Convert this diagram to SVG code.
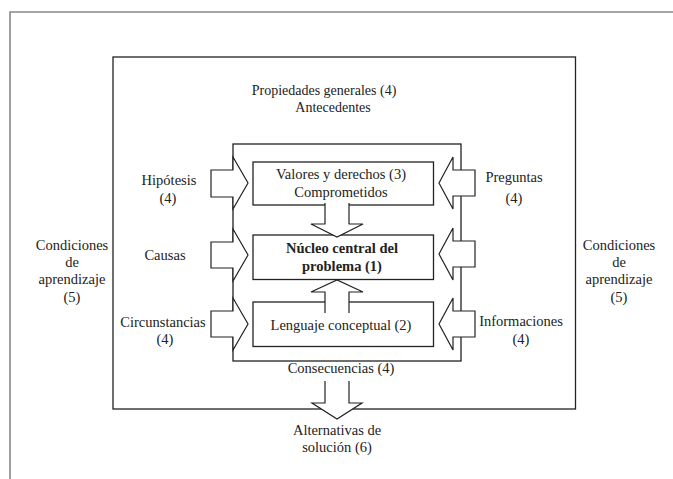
<svg xmlns="http://www.w3.org/2000/svg" width="673" height="479" viewBox="0 0 673 479">
<style>
text{font-family:"Liberation Serif","Times New Roman",serif;font-size:14.5px;fill:#222;text-anchor:middle}
.b{font-weight:bold}
.s{font-size:14px}
.box{fill:#fff;stroke:#222;stroke-width:1.3}
.frame{fill:none;stroke:#222;stroke-width:1.3}
.arr{fill:#fff;stroke:#222;stroke-width:1.2;stroke-linejoin:miter}
</style>
<rect width="673" height="479" fill="#fff"/>
<path d="M10,479 V12 H673" fill="none" stroke="#888" stroke-width="1.6"/>
<g id="main">
<rect class="frame" x="113" y="57" width="462.5" height="352"/>
<text class="s" x="324" y="95">Propiedades generales (4)</text>
<text class="s" x="333" y="112">Antecedentes</text>
<text x="341" y="373">Consecuencias (4)</text>
</g>
<g id="inner">
<rect class="frame" x="233" y="144" width="228" height="217"/>
</g>
<g id="valores">
<rect class="box" x="253" y="162" width="180.5" height="43"/>
<text x="341" y="179">Valores y derechos (3)</text>
<text x="341" y="197">Comprometidos</text>
</g>
<g id="nucleo">
<rect class="box" x="253" y="235" width="180.5" height="44.5"/>
<text class="b" x="342" y="253">Núcleo central del</text>
<text class="b" x="342" y="271">problema (1)</text>
</g>
<g id="lenguaje">
<rect class="box" x="253" y="302" width="180.5" height="44.5"/>
<text x="341" y="330">Lenguaje conceptual (2)</text>
</g>
<g id="connectors">
<path class="arr" d="M325,203 V224 H311 L337,237 L363,224 H349 V203"/>
<path class="arr" d="M325,313 V292 H311 L337,280 L363,292 H349 V313"/>
<path class="arr" d="M233,157 L248,183 L233,209 V197 H211 V170 H233 Z"/>
<path class="arr" d="M233,229 L248,255 L233,281 V268 H211 V242 H233 Z"/>
<path class="arr" d="M233,298 L248,324 L233,350 V337 H211 V311 H233 Z"/>
<path class="arr" d="M453,157 L439,183 L453,209 V196 H475 V170 H453 Z"/>
<path class="arr" d="M453,228 L439,254 L453,280 V267 H475 V241 H453 Z"/>
<path class="arr" d="M453,298 L439,324 L453,350 V337 H475 V311 H453 Z"/>
<path class="arr" d="M325,381 V403 H312 L337,419 L362,403 H349 V381"/>
</g>
<g id="hipotesis"><text x="169" y="185">Hipótesis</text><text x="168" y="203">(4)</text></g>
<g id="causas"><text x="165" y="260">Causas</text></g>
<g id="circunstancias"><text x="163" y="327">Circunstancias</text><text x="165" y="344">(4)</text></g>
<g id="preguntas"><text x="514" y="182">Preguntas</text><text x="514" y="203">(4)</text></g>
<g id="informaciones"><text x="521" y="326">Informaciones</text><text x="521" y="344">(4)</text></g>
<g id="cond-left"><text x="72" y="250">Condiciones</text><text x="72" y="267">de</text><text x="72" y="284">aprendizaje</text><text x="72" y="302">(5)</text></g>
<g id="cond-right"><text x="619" y="250">Condiciones</text><text x="619" y="267">de</text><text x="619" y="284">aprendizaje</text><text x="619" y="302">(5)</text></g>
<g id="alternativas"><text x="337" y="435">Alternativas de</text><text x="337" y="452">solución (6)</text></g>
</svg>
